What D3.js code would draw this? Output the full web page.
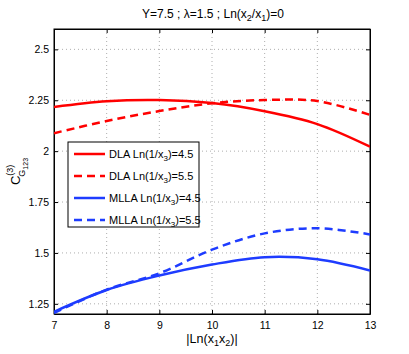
<!DOCTYPE html>
<html>
<head>
<meta charset="utf-8">
<script src="https://cdn.jsdelivr.net/npm/d3@7"></script>
<style>
  body { margin: 0; background: #fff; }
  svg { font-family: "Liberation Sans", Arial, sans-serif; }
</style>
</head>
<body>
<svg id="chart" width="409" height="354"></svg>
<script>
// values
var lnx1x2 = [7, 8, 9, 10, 11, 12, 13];
var dla45 = [2.217, 2.245, 2.251, 2.236, 2.196, 2.133, 2.022];
var dla55 = [2.088, 2.148, 2.197, 2.235, 2.251, 2.246, 2.178];
var mlla45 = [1.211, 1.318, 1.389, 1.443, 1.479, 1.469, 1.414];
var mlla55 = [1.205, 1.320, 1.400, 1.516, 1.596, 1.621, 1.591];
var xTicks = [7, 8, 9, 10, 11, 12, 13];
var yTicks = [1.25, 1.5, 1.75, 2, 2.25, 2.5];

var series = [
    { name: "DLA", x3: "4.5", values: dla45, color: "#ff0000", dash: null },
    { name: "DLA", x3: "5.5", values: dla55, color: "#ff0000", dash: "8,5" },
    { name: "MLLA", x3: "4.5", values: mlla45, color: "#1e3cff", dash: null },
    { name: "MLLA", x3: "5.5", values: mlla55, color: "#1e3cff", dash: "8,5" }
];

var margin = { left: 54, right: 39, top: 29, bottom: 40 };
var width = 409, height = 354;
var svg = d3.select("#chart");

var x = d3.scaleLinear().domain([7, 13]).range([margin.left, width - margin.right]);
var y = d3.scaleLinear().domain([1.2, 2.6]).range([height - margin.bottom, margin.top]);

//dotted grid
svg.append("g").selectAll("line.gx")
    .data(xTicks.slice(1, -1))
    .enter().append("line")
    .attr("x1", d => x(d)).attr("x2", d => x(d))
    .attr("y1", y.range()[0]).attr("y2", y.range()[1])
    .attr("stroke", "#999").attr("stroke-width", 0.8).attr("stroke-dasharray", "1,3");
svg.append("g").selectAll("line.gy")
    .data(yTicks)
    .enter().append("line")
    .attr("x1", x.range()[0]).attr("x2", x.range()[1])
    .attr("y1", d => y(d)).attr("y2", d => y(d))
    .attr("stroke", "#999").attr("stroke-width", 0.8).attr("stroke-dasharray", "1,3");

//axes, ticks inside like matlab
svg.append("g")
    .attr("transform", "translate(0," + y.range()[0] + ")")
    .call(d3.axisBottom(x).tickValues(xTicks).tickSizeInner(-4).tickSizeOuter(0).tickPadding(8)
        .tickFormat(d3.format("d")));
svg.append("g")
    .attr("transform", "translate(0," + y.range()[1] + ")")
    .call(d3.axisTop(x).tickValues(xTicks).tickSizeInner(-4).tickSizeOuter(0).tickFormat(""));
svg.append("g")
    .attr("transform", "translate(" + x.range()[0] + ",0)")
    .call(d3.axisLeft(y).tickValues(yTicks).tickSizeInner(-4).tickSizeOuter(0).tickPadding(5)
        .tickFormat(function(d) { return d3.format("")(d); }));
svg.append("g")
    .attr("transform", "translate(" + x.range()[1] + ",0)")
    .call(d3.axisRight(y).tickValues(yTicks).tickSizeInner(-4).tickSizeOuter(0).tickFormat(""));

svg.selectAll(".domain").attr("stroke", "#000");
svg.selectAll(".tick text").attr("font-size", 10.5).attr("fill", "#000")
    .attr("font-family", "Liberation Sans, Arial, sans-serif");

//box
svg.append("rect")
    .attr("x", x.range()[0]).attr("y", y.range()[1])
    .attr("width", x.range()[1] - x.range()[0])
    .attr("height", y.range()[0] - y.range()[1])
    .attr("fill", "none").attr("stroke", "#000").attr("stroke-width", 1);

var line = d3.line()
    .x(function(d, i) { return x(lnx1x2[i]); })
    .y(function(d) { return y(d); })
    .curve(d3.curveCatmullRom.alpha(0.5));

svg.append("clipPath").attr("id", "clip").append("rect")
    .attr("x", x.range()[0]).attr("y", y.range()[1])
    .attr("width", x.range()[1] - x.range()[0])
    .attr("height", y.range()[0] - y.range()[1]);

svg.append("g").attr("clip-path", "url(#clip)")
    .selectAll("path")
    .data(series)
    .enter().append("path")
    .attr("d", d => line(d.values))
    .attr("fill", "none")
    .attr("stroke", d => d.color)
    .attr("stroke-width", 2.5)
    .attr("stroke-dasharray", d => d.dash);

//legend
var leg = svg.append("g").attr("transform", "translate(68,142)");
leg.append("rect")
    .attr("width", 131).attr("height", 85)
    .attr("fill", "#fff").attr("stroke", "#000").attr("stroke-width", 1);

var row = leg.selectAll("g.row")
    .data(series)
    .enter().append("g")
    .attr("transform", function(d, i) { return "translate(0," + (12 + i * 22) + ")"; });

row.append("line")
    .attr("x1", 6).attr("x2", 37)
    .attr("stroke", d => d.color)
    .attr("stroke-width", 2.5)
    .attr("stroke-dasharray", d => d.dash);

var lt = row.append("text")
    .attr("x", 41).attr("y", 4)
    .attr("font-size", 11).attr("fill", "#000");
lt.append("tspan").text(d => d.name + " Ln(1/x");
lt.append("tspan").attr("font-size", 8).attr("dy", 3).text("3");
lt.append("tspan").attr("dy", -3).text(d => ")=" + d.x3);

//title
var title = svg.append("text")
    .attr("x", 213).attr("y", 18)
    .attr("text-anchor", "middle")
    .attr("font-size", 12);
title.append("tspan").text("Y=7.5 ; λ=1.5 ; Ln(x");
title.append("tspan").attr("font-size", 9).attr("dy", 3).text("2");
title.append("tspan").attr("dy", -3).text("/x");
title.append("tspan").attr("font-size", 9).attr("dy", 3).text("1");
title.append("tspan").attr("dy", -3).text(")=0");

//x label
var xl = svg.append("text")
    .attr("x", 212).attr("y", 343)
    .attr("text-anchor", "middle")
    .attr("font-size", 12.5);
xl.append("tspan").text("|Ln(x");
xl.append("tspan").attr("font-size", 9).attr("dy", 3).text("1");
xl.append("tspan").attr("dy", -3).text("x");
xl.append("tspan").attr("font-size", 9).attr("dy", 3).text("2");
xl.append("tspan").attr("dy", -3).text(")|");

//y label
var yl = svg.append("text")
    .attr("transform", "translate(20," + ((y.range()[0] + y.range()[1]) / 2) + ") rotate(-90)")
    .attr("text-anchor", "middle")
    .attr("font-size", 13);
yl.append("tspan").text("C");
yl.append("tspan").attr("font-size", 9).attr("dy", -7).text("(3)");
yl.append("tspan").attr("font-size", 9).attr("dx", -12).attr("dy", 12).text("G");
yl.append("tspan").attr("font-size", 7).attr("dy", 3).text("123");
</script>
</body>
</html>
